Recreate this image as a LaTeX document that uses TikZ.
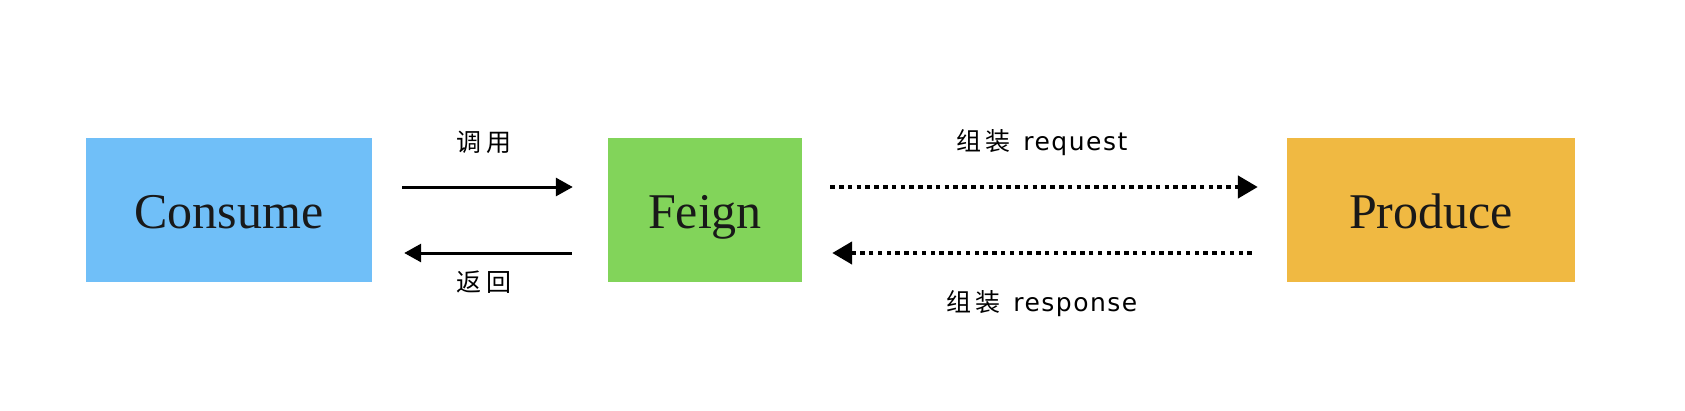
\documentclass[tikz,border=0pt]{standalone}
\usepackage{fontspec}
\setmainfont{Liberation Serif}
\newfontfamily\cjk{Noto Sans CJK SC}
\newfontfamily\lat[LetterSpace=6]{DejaVu Sans}
\usetikzlibrary{arrows.meta}
\definecolor{cblue}{HTML}{70BFF8}
\definecolor{cgreen}{HTML}{82D45A}
\definecolor{corange}{HTML}{F0B942}
\begin{document}
\begin{tikzpicture}[x=1pt,y=-1pt,
  box/.style={inner sep=0pt, minimum height=144pt, text height=36pt, text depth=0pt, font=\fontsize{50}{50}\selectfont, text=black!90},
  lab/.style={inner sep=0pt, font=\fontsize{25}{25}\selectfont},
  solidarr/.style={line width=3pt, -{Triangle[length=17pt,width=18pt]}},
  dotarr/.style={line width=4.5pt, dash pattern=on 4.5pt off 4.3pt, -{Triangle[length=20pt,width=22pt]}}]
\useasboundingbox (0,0) rectangle (1685,410);
\node[box, fill=cblue, minimum width=286pt] (c) at (229,210) {Consume};
\node[box, fill=cgreen, minimum width=194pt] (f) at (705,210) {Feign};
\node[box, fill=corange, minimum width=288pt] (p) at (1431,210) {Produce};
\draw[solidarr, shorten <=30pt, shorten >=35pt] ([yshift=23pt]c.east) -- ([yshift=23pt]f.west);
\draw[solidarr, shorten <=36pt, shorten >=32pt] ([yshift=-43pt]f.west) -- ([yshift=-43pt]c.east);
\draw[dotarr, shorten <=28pt, shorten >=29pt] ([yshift=23pt]f.east) -- ([yshift=23pt]p.west);
\draw[dotarr, shorten <=35pt, shorten >=30pt] ([yshift=-43pt]p.west) -- ([yshift=-43pt]f.east);
\node[lab] (l1) at (484,142) {\cjk 调\,用};
\node[lab] (l2) at (484,282) {\cjk 返\,回};
\node[lab] (l3) at (1042,143) {{\cjk 组\,装}\hspace{0.5em}\lat request};
\node[lab] (l4) at (1042,304) {{\cjk 组\,装}\hspace{0.5em}\lat response};
\end{tikzpicture}
\end{document}
